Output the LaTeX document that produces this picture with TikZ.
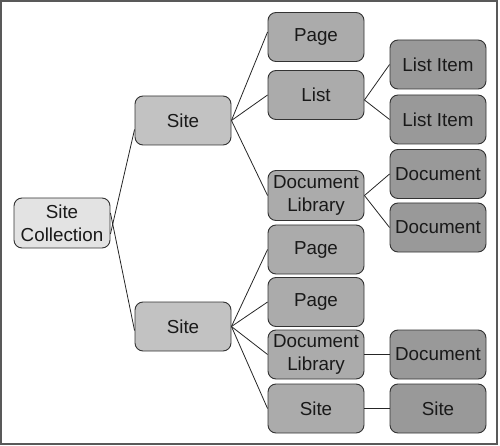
\documentclass[tikz,border=0pt]{standalone}
\usepackage{fontspec}
\setmainfont{Liberation Sans}
\begin{document}
\begin{tikzpicture}[x=1pt,y=-1pt,
  box/.style={draw=black!80, line width=0.9pt, rounded corners=8pt, minimum width=96pt, minimum height=49pt,
    inner sep=1pt, align=center, font=\fontsize{18.8}{23}\selectfont, text=black!90},
  lvl0/.style={box, fill=black!11},
  lvl1/.style={box, fill=black!24},
  lvl2/.style={box, fill=black!33},
  lvl3/.style={box, fill=black!40},
  conn/.style={draw=black!85, line width=0.8pt}]
\useasboundingbox (0,0) rectangle (500,446);
\draw[draw=black!65, line width=2pt] (1,1) rectangle (497,444);

\node[lvl0, minimum height=50pt] (sc) at (62,223) {Site\\Collection};
\node[lvl1] (s1) at (183,120.5) {Site};
\node[lvl1] (s2) at (183,326.5) {Site};

\node[lvl2] (p1) at (316,37) {Page};
\node[lvl2] (l1) at (316,95) {List};
\node[lvl2, minimum height=50pt] (d1) at (316,195.5) {Document\\Library};
\node[lvl3] (li1) at (438,64.5) {List Item};
\node[lvl3] (li2) at (438,119.5) {List Item};
\node[lvl3] (doc1) at (438,174) {Document};
\node[lvl3] (doc2) at (438,227.5) {Document};

\node[lvl2] (p2) at (316,249.5) {Page};
\node[lvl2] (p3) at (316,302) {Page};
\node[lvl2] (d2) at (316,354.5) {Document\\Library};
\node[lvl2] (s3) at (316,408.5) {Site};
\node[lvl3] (doc3) at (438,354.5) {Document};
\node[lvl3] (s4) at (438,408.5) {Site};

\draw[conn] ([yshift=-11pt]sc.east) -- ([yshift=-9pt]s1.west);
\draw[conn] ([yshift=10pt]sc.east) -- ([yshift=-4pt]s2.west);

\draw[conn] (s1.east) -- ([yshift=5pt]p1.west);
\draw[conn] (s1.east) -- (l1.west);
\draw[conn] (s1.east) -- (d1.west);

\draw[conn] ([yshift=-5pt]l1.east) -- (li1.west);
\draw[conn] ([yshift=-5pt]l1.east) -- (li2.west);
\draw[conn] (d1.east) -- (doc1.west);
\draw[conn] (d1.east) -- (doc2.west);

\draw[conn] (s2.east) -- (p2.west);
\draw[conn] (s2.east) -- (p3.west);
\draw[conn] (s2.east) -- (d2.west);
\draw[conn] (s2.east) -- (s3.west);

\draw[conn] (d2.east) -- (doc3.west);
\draw[conn] (s3.east) -- (s4.west);
\end{tikzpicture}
\end{document}
